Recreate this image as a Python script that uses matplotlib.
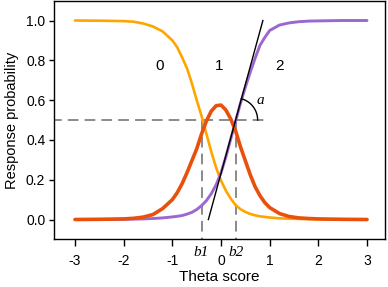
import numpy as np
import matplotlib
matplotlib.use("Agg")
import matplotlib.pyplot as plt
import matplotlib.transforms as mtransforms

# valores
theta = [-3.0, -2.5, -2.0, -1.8, -1.6, -1.4, -1.2, -1.0, -0.9, -0.8, -0.7, -0.6,
         -0.5, -0.4, -0.3, -0.2, -0.1, 0.0, 0.1, 0.2, 0.3, 0.4, 0.5, 0.6, 0.7,
         0.8, 0.9, 1.0, 1.2, 1.4, 1.6, 1.8, 2.0, 2.5, 3.0]
p_cat0 = [1.000, 0.999, 0.997, 0.994, 0.985, 0.970, 0.945, 0.900, 0.865, 0.815,
          0.760, 0.685, 0.600, 0.520, 0.430, 0.340, 0.260, 0.195, 0.145, 0.105,
          0.072, 0.052, 0.038, 0.028, 0.021, 0.016, 0.013, 0.010, 0.006, 0.004,
          0.003, 0.002, 0.001, 0.000, 0.000]
p_cat1 = [0.000, 0.001, 0.003, 0.006, 0.012, 0.025, 0.055, 0.100, 0.135, 0.180,
          0.235, 0.295, 0.355, 0.430, 0.495, 0.545, 0.572, 0.575, 0.550, 0.505,
          0.445, 0.365, 0.295, 0.225, 0.165, 0.120, 0.085, 0.060, 0.030, 0.015,
          0.008, 0.005, 0.003, 0.001, 0.000]
p_cat2 = [0.000, 0.000, 0.001, 0.002, 0.003, 0.005, 0.008, 0.013, 0.016, 0.020,
          0.027, 0.036, 0.050, 0.070, 0.095, 0.130, 0.175, 0.235, 0.315, 0.405,
          0.495, 0.585, 0.665, 0.740, 0.810, 0.875, 0.915, 0.950, 0.977, 0.988,
          0.994, 0.997, 0.998, 1.000, 1.000]

b1 = -0.40
b2 = 0.30
tangente_x = [-0.26, 0.86]
tangente_y = [0.0, 1.0]
x_ticks = [-3, -2, -1, 0, 1, 2, 3]
y_ticks = [0.0, 0.2, 0.4, 0.6, 0.8, 1.0]

plt.rcParams['font.family'] = ['Liberation Sans', 'DejaVu Sans']

fig = plt.figure(figsize=(3.88, 2.87), dpi=100)
ax = fig.add_axes([0.140, 0.1672, 0.8523, 0.8293])

ax.plot(theta, p_cat0, color='#FFA500', lw=1.9, solid_capstyle='round', zorder=3)
ax.plot(theta, p_cat2, color='#9B68CF', lw=2.1, solid_capstyle='round', zorder=3)
ax.plot(theta, p_cat1, color='#E8500C', lw=2.6, solid_capstyle='round', zorder=4)

# lineas guia
gris = '#6b6b6b'
ax.plot([-3.5, 0.9], [0.5, 0.5], color=gris, lw=1.1, dashes=(7, 4), zorder=2)
ax.plot([b1, b1], [0.5, -0.2], color=gris, lw=1.1, dashes=(7, 4), zorder=2)
ax.plot([b2, b2], [0.5, -0.2], color=gris, lw=1.1, dashes=(7, 4), zorder=2)
ax.plot(tangente_x, tangente_y, color='black', lw=1.0, zorder=5)

ax.set_xlim(-3.426, 3.37)
ax.set_ylim(-0.098, 1.098)

# arco del angulo a
centro = ax.transData.transform((b2, 0.5))
p0 = ax.transData.transform((tangente_x[0], tangente_y[0]))
p1 = ax.transData.transform((tangente_x[1], tangente_y[1]))
ang_fin = np.arctan2(p1[1] - p0[1], p1[0] - p0[0])
ang = np.linspace(0, ang_fin, 40)
r = 22 * fig.dpi / 100
arco = np.column_stack([centro[0] + r * np.cos(ang), centro[1] + r * np.sin(ang)])
arco = ax.transData.inverted().transform(arco)
ax.plot(arco[:, 0], arco[:, 1], color='black', lw=1.0, zorder=5)

ax.text(0.80, 0.60, 'a', family='Liberation Serif', style='italic', fontsize=11,
        ha='center', va='center')
ax.text(-1.27, 0.77, '0', fontsize=11, ha='center', va='center')
ax.text(-0.04, 0.77, '1', fontsize=11, ha='center', va='center')
ax.text(1.21, 0.77, '2', fontsize=11, ha='center', va='center')

trans = mtransforms.blended_transform_factory(ax.transData, ax.transAxes)
ax.text(b1 - 0.02, -0.055, 'b1', family='Liberation Serif', style='italic',
        fontsize=11, ha='center', va='center', transform=trans, clip_on=False)
ax.text(b2 + 0.01, -0.055, 'b2', family='Liberation Serif', style='italic',
        fontsize=11, ha='center', va='center', transform=trans, clip_on=False)

ax.set_xticks(x_ticks)
ax.set_xticklabels([str(t) for t in x_ticks])
ax.set_yticks(y_ticks)
ax.set_yticklabels(['%.1f' % t for t in y_ticks])
ax.tick_params(axis='x', length=5, width=1, pad=6, labelsize=10)
ax.tick_params(axis='y', length=3.5, width=1, pad=3, labelsize=10)
for s in ax.spines.values():
    s.set_linewidth(1.0)

ax.set_xlabel('Theta score', fontsize=11, va='center')
ax.xaxis.set_label_coords(0.5, -0.16)
ax.set_ylabel('Response probability', fontsize=10.5, va='center')
ax.yaxis.set_label_coords(-0.128, 0.5)

fig.savefig('out.png', dpi=100)
